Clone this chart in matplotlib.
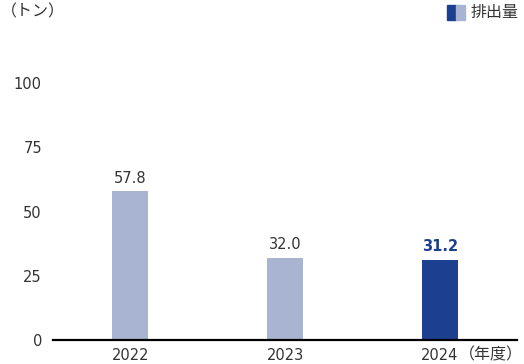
import matplotlib.pyplot as plt
from matplotlib.patches import Rectangle

plt.rcParams['font.family'] = ['DejaVu Sans']

years = ['2022', '2023', '2024']
emissions = [57.8, 32.0, 31.2]
yticks = [0, 25, 50, 75, 100]

light = '#a9b4d3'
dark = '#1d3f8f'
text_c = '#333333'
colors = [light, light, dark]
jp = ['Noto Sans CJK JP', 'DejaVu Sans']

fig = plt.figure(figsize=(5.24, 3.64), dpi=100)
ax = fig.add_axes([53 / 524, 24 / 364, 464 / 524, 257 / 364])

x = range(len(years))
bars = ax.bar(x, emissions, width=0.233, color=colors, clip_on=False)

for i, (b, v) in enumerate(zip(bars, emissions)):
    last = i == len(emissions) - 1
    ax.annotate(f'{v:.1f}', (b.get_x() + b.get_width() / 2, v),
                xytext=(0, 4), textcoords='offset points',
                ha='center', va='bottom', fontsize=10.5,
                color=dark if last else text_c,
                fontweight='bold' if last else 'normal')

ax.set_xlim(-0.5, 2.5)
ax.set_ylim(0, 100)
ax.set_yticks(yticks)
ax.set_xticks(list(x))
ax.set_xticklabels(years)
ax.tick_params(axis='both', length=0, labelsize=10.5, colors=text_c)
ax.tick_params(axis='y', pad=8)
ax.tick_params(axis='x', pad=6)
for s in ['top', 'right', 'left']:
    ax.spines[s].set_visible(False)
ax.spines['bottom'].set_linewidth(1.6)
ax.spines['bottom'].set_color('black')

fig.text(1 / 524, 1 - 12 / 364, '（トン）', fontsize=11.5, color=text_c,
         ha='left', va='center', family=jp)
fig.text(459 / 524, 1 - 355 / 364, '（年度）', fontsize=11.5, color=text_c,
         ha='left', va='center', family=jp)

# legend
fig.patches.append(Rectangle((447 / 524, 1 - 20 / 364), 9 / 524, 15 / 364,
                             transform=fig.transFigure, color=dark))
fig.patches.append(Rectangle((456 / 524, 1 - 20 / 364), 9 / 524, 15 / 364,
                             transform=fig.transFigure, color=light))
fig.text(471 / 524, 1 - 12.5 / 364, '排出量', fontsize=11.5, color=text_c,
         ha='left', va='center', family=jp)

fig.savefig('out.png', dpi=100)
